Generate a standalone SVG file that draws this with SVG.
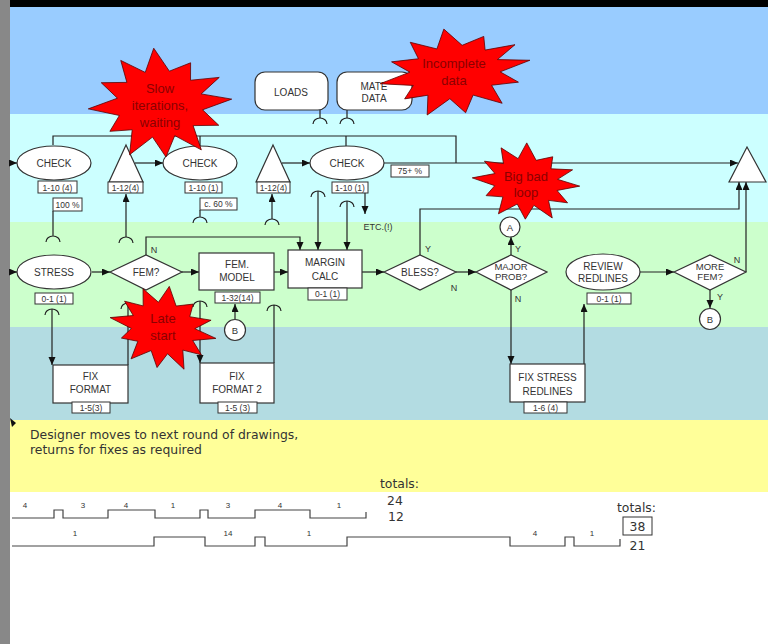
<svg xmlns="http://www.w3.org/2000/svg" width="768" height="644" viewBox="0 0 768 644">
<style>
.n{fill:#fff;stroke:#333;stroke-width:1.2}
.t{font-family:"Liberation Sans",Arial,sans-serif;font-size:10px;fill:#333;text-anchor:middle}
.t2{font-family:"Liberation Sans",Arial,sans-serif;font-size:9.5px;fill:#333;text-anchor:middle}
.lb{fill:#fff;stroke:#333;stroke-width:1}
.lt{font-family:"Liberation Sans",Arial,sans-serif;font-size:8.5px;fill:#333;text-anchor:middle}
.c{fill:none;stroke:#222;stroke-width:1.2}
.a{marker-end:url(#ah)}
.st{fill:#ff0000;stroke:#5a0000;stroke-width:0.8}
.stt{font-family:"Liberation Sans",Arial,sans-serif;font-size:13px;fill:#8b0000;text-anchor:middle}
.w{fill:none;stroke:#444;stroke-width:1.2}
.big{font-family:"DejaVu Sans",sans-serif;font-size:12.4px;fill:#333}
.sm{font-family:"Liberation Sans",Arial,sans-serif;font-size:8px;fill:#333;text-anchor:middle}
.yn{font-family:"Liberation Sans",Arial,sans-serif;font-size:9px;fill:#333;text-anchor:middle}
</style>
<defs>
<marker id="ah" markerWidth="9" markerHeight="8" refX="8" refY="3.5" orient="auto" markerUnits="userSpaceOnUse"><path d="M0,0 L8,3.5 L0,7 z" fill="#111"/></marker>
<polygon id="star" vector-effect="non-scaling-stroke" points="-0.087,-0.996 0.130,-0.586 0.425,-0.736 0.424,-0.424 0.823,-0.475 0.572,-0.180 0.996,-0.087 0.591,0.104 0.816,0.380 0.460,0.386 0.574,0.819 0.205,0.564 0.083,0.946 -0.104,0.591 -0.423,0.906 -0.386,0.460 -0.696,0.488 -0.564,0.205 -0.996,0.087 -0.591,-0.104 -0.816,-0.380 -0.460,-0.386 -0.545,-0.778 -0.205,-0.564"/>
</defs>

<g id="background">
<rect x="0" y="0" width="768" height="644" fill="#fff"/>
<rect x="10" y="0" width="758" height="114" fill="#99ccff"/>
<rect x="10" y="114" width="758" height="108" fill="#ccffff"/>
<rect x="10" y="222" width="758" height="105" fill="#ccffcc"/>
<rect x="10" y="327" width="758" height="93" fill="#b3dce2"/>
<rect x="10" y="420" width="758" height="72" fill="#ffff99"/>
<rect x="10" y="0" width="758" height="7" fill="#000"/>
<rect x="0" y="0" width="10" height="644" fill="#888"/>
<polygon points="10,418 16,423 12,427" fill="#111"/>
</g>

<g id="connectors">
<path class="c a" d="M10,163 H17"/>
<path class="c a" d="M10,272 H17"/>
<path class="c" d="M53,145 V136 H456 V163"/>
<path class="c" d="M200,136 V146 M346,136 V146"/>
<path class="c a" d="M384,163 H738"/>
<path class="c a" d="M135,163 H163"/>
<path class="c a" d="M282,163 H310"/>
<path class="c" d="M320,110 V118 M347,110 V118"/>
<path class="c" d="M313,124 A7,6 0 0 1 327,124 M340,124 A7,6 0 0 1 354,124"/>
<path class="c" d="M53,211 V236 M46,242 A7,6 0 0 1 60,242"/>
<path class="c" d="M119,243 A7,6 0 0 1 133,243"/>
<path class="c a" d="M126,237 V194"/>
<path class="c" d="M200,210 V217 M193,223 A7,6 0 0 1 207,223"/>
<path class="c" d="M265,225 A7,6 0 0 1 279,225"/>
<path class="c a" d="M272,219 V194"/>
<path class="c" d="M311,197 A7,6 0 0 1 325,197 M340,207 A7,6 0 0 1 354,207"/>
<path class="c a" d="M318,191 V250"/>
<path class="c a" d="M347,201 V250"/>
<path class="c a" d="M365,193 V214"/>
<path class="c a" d="M146,255 V237 H300 V250"/>
<path class="c a" d="M92,272 H110"/>
<path class="c a" d="M182,272 H199"/>
<path class="c a" d="M274,272 H288"/>
<path class="c a" d="M362,272 H384"/>
<path class="c a" d="M456,272 H476"/>
<path class="c a" d="M420,255 V209 H739 V182"/>
<path class="c a" d="M511,255 V237"/>
<path class="c a" d="M511,290 V364"/>
<path class="c a" d="M584,364 V304"/>
<path class="c a" d="M639,272 H674"/>
<path class="c a" d="M746,272 V182"/>
<path class="c a" d="M710,290 V308"/>
<path class="c a" d="M235,319 V304"/>
<path class="c" d="M45,315 A7,6 0 0 1 59,315"/>
<path class="c a" d="M52,309 V365"/>
<path class="c" d="M121,309 A7,6 0 0 1 135,309 M128,303 V365"/>
<path class="c" d="M193,307 A7,6 0 0 1 207,307"/>
<path class="c a" d="M200,301 V363"/>
<path class="c" d="M267,311 A7,6 0 0 1 281,311 M274,305 V363"/>
</g>

<g id="loads"><rect class="n" x="255" y="72" width="73" height="38" rx="10"/><text class="t" x="291" y="96">LOADS</text></g>
<g id="matedata"><rect class="n" x="337" y="72" width="75" height="38" rx="10"/><text class="t" x="374" y="90">MATE</text><text class="t" x="374" y="102">DATA</text></g>

<g id="check1"><ellipse class="n" cx="54" cy="163" rx="37" ry="17"/><text class="t" x="54" y="167">CHECK</text>
<rect class="lb" x="38" y="181" width="39" height="12"/><text class="lt" x="57.5" y="190.5">1-10 (4)</text>
<rect class="lb" x="53" y="198" width="29" height="13"/><text class="lt" x="67.5" y="207.5">100 %</text></g>
<g id="tri1"><polygon class="n" points="126,145 143,182 109,182"/><rect class="lb" x="108" y="182" width="35" height="11"/><text class="lt" x="125.5" y="190.5">1-12(4)</text></g>
<g id="check2"><ellipse class="n" cx="200" cy="163" rx="37" ry="17"/><text class="t" x="200" y="167">CHECK</text>
<rect class="lb" x="185" y="182" width="37" height="11"/><text class="lt" x="203.5" y="190.5">1-10 (1)</text>
<rect class="lb" x="200" y="198" width="37" height="12"/><text class="lt" x="218.5" y="207">c. 60 %</text></g>
<g id="tri2"><polygon class="n" points="273,145 290,182 256,182"/><rect class="lb" x="257" y="182" width="33" height="11"/><text class="lt" x="273.5" y="190.5">1-12(4)</text></g>
<g id="check3"><ellipse class="n" cx="347" cy="163" rx="37" ry="17"/><text class="t" x="347" y="167">CHECK</text>
<rect class="lb" x="332" y="182" width="36" height="11"/><text class="lt" x="350" y="190.5">1-10 (1)</text>
<rect class="lb" x="391" y="165" width="38" height="12"/><text class="lt" x="410" y="174">75+ %</text>
<text class="yn" x="378" y="230">ETC.(!)</text></g>
<g id="tri3"><polygon class="n" points="747,147 766,182 729,182"/></g>

<g id="stress"><ellipse class="n" cx="54" cy="272" rx="37" ry="17"/><text class="t" x="54" y="276">STRESS</text>
<rect class="lb" x="35" y="293" width="38" height="11"/><text class="lt" x="54" y="301.5">0-1 (1)</text></g>
<g id="femq"><polygon class="n" points="110,272 146,255 182,272 146,290"/><text class="t" x="146" y="276">FEM?</text><text class="yn" x="154" y="253">N</text></g>
<g id="femmodel"><rect class="n" x="199" y="253" width="75" height="37"/><text class="t" x="237" y="268">FEM.</text><text class="t" x="237" y="281">MODEL</text>
<rect class="lb" x="215" y="292" width="45" height="11"/><text class="lt" x="237.5" y="300.5">1-32(14)</text></g>
<g id="b1"><circle class="n" cx="235" cy="330" r="10.5"/><text class="t2" x="235" y="333.5">B</text></g>
<g id="margin"><rect class="n" x="288" y="250" width="74" height="38"/><text class="t" x="325" y="266">MARGIN</text><text class="t" x="325" y="280">CALC</text>
<rect class="lb" x="308" y="288" width="39" height="12"/><text class="lt" x="327.5" y="297">0-1 (1)</text></g>
<g id="bless"><polygon class="n" points="384,272 420,255 456,272 420,290"/><text class="t" x="420" y="276">BLESS?</text><text class="yn" x="428" y="252">Y</text><text class="yn" x="454" y="291">N</text></g>
<g id="major"><polygon class="n" points="476,272 511,255 547,272 511,290"/><text class="t2" x="511" y="270">MAJOR</text><text class="t2" x="511" y="280">PROB?</text><text class="yn" x="518" y="252">Y</text><text class="yn" x="518" y="302">N</text></g>
<g id="a1"><circle class="n" cx="510" cy="227" r="10"/><text class="t2" x="510" y="230.5">A</text></g>
<g id="review"><ellipse class="n" cx="603" cy="272" rx="37" ry="18"/><text class="t" x="603" y="270">REVIEW</text><text class="t" x="603" y="282">REDLINES</text>
<rect class="lb" x="587" y="293" width="44" height="11"/><text class="lt" x="609" y="301.5">0-1 (1)</text></g>
<g id="morefem"><polygon class="n" points="674,272 710,255 746,272 710,290"/><text class="t2" x="710" y="270">MORE</text><text class="t2" x="710" y="280">FEM?</text><text class="yn" x="737" y="263">N</text><text class="yn" x="720" y="300">Y</text></g>
<g id="b2"><circle class="n" cx="710" cy="319" r="10.5"/><text class="t2" x="710" y="322.5">B</text></g>
<g id="fixformat"><rect class="n" x="53" y="365" width="75" height="38"/><text class="t" x="90.5" y="380">FIX</text><text class="t" x="90.5" y="393">FORMAT</text>
<rect class="lb" x="72" y="402" width="38" height="11"/><text class="lt" x="91" y="410.5">1-5(3)</text></g>
<g id="fixformat2"><rect class="n" x="200" y="363" width="74" height="40"/><text class="t" x="237" y="380">FIX</text><text class="t" x="237" y="393">FORMAT 2</text>
<rect class="lb" x="218" y="402" width="39" height="11"/><text class="lt" x="237.5" y="410.5">1-5 (3)</text></g>
<g id="fixstress"><rect class="n" x="510" y="364" width="75" height="38"/><text class="t" x="547.5" y="381">FIX STRESS</text><text class="t" x="547.5" y="395">REDLINES</text>
<rect class="lb" x="524" y="402" width="43" height="11"/><text class="lt" x="545.5" y="410.5">1-6 (4)</text></g>

<g id="star-slow"><use href="#star" class="st" transform="translate(160,104) scale(72,56)"/>
<text class="stt" x="160" y="93">Slow</text><text class="stt" x="160" y="110">iterations,</text><text class="stt" x="160" y="127">waiting</text></g>
<g id="star-incomplete"><use href="#star" class="st" transform="translate(455,72) rotate(-6) scale(76,44)"/>
<text class="stt" x="454" y="68">Incomplete</text><text class="stt" x="454" y="85">data</text></g>
<g id="star-bigbad"><use href="#star" class="st" transform="translate(526,182) rotate(8) scale(54,39)"/>
<text class="stt" x="526" y="181">Big bad</text><text class="stt" x="526" y="197">loop</text></g>
<g id="star-late"><use href="#star" class="st" transform="translate(163,328) rotate(15) scale(54,42)"/>
<text class="stt" x="163" y="323">Late</text><text class="stt" x="163" y="340">start</text></g>

<g id="notes">
<text class="big" x="30" y="439">Designer moves to next round of drawings,</text>
<text class="big" x="30" y="454">returns for fixes as required</text>
<text class="big" x="380" y="488">totals:</text>
<text class="big" x="387" y="505">24</text>
<text class="big" x="388" y="521">12</text>
<text class="big" x="617" y="512">totals:</text>
<rect x="623" y="517" width="29" height="18" fill="#fff" stroke="#333" stroke-width="1"/>
<text class="big" x="637.5" y="531" text-anchor="middle">38</text>
<text class="big" x="637.5" y="550" text-anchor="middle">21</text>
</g>

<g id="timeline">
<polyline class="w" points="12,518 54,518 54,510 63,510 63,518 108,518 108,510 155,510 155,518 200,518 200,510 208,510 208,518 255,518 255,510 310,510 310,518 366,518 366,512"/>
<polyline class="w" points="12,546 154,546 154,537 205,537 205,546 255,546 255,537 265,537 265,546 347,546 347,537 510,537 510,546 565,546 565,537 574,537 574,546 620,546 620,539"/>
<text class="sm" x="25" y="508">4</text><text class="sm" x="83" y="508">3</text><text class="sm" x="126" y="508">4</text><text class="sm" x="173" y="508">1</text><text class="sm" x="228" y="508">3</text><text class="sm" x="280" y="508">4</text><text class="sm" x="339" y="508">1</text>
<text class="sm" x="75" y="536">1</text><text class="sm" x="228" y="536">14</text><text class="sm" x="309" y="536">1</text><text class="sm" x="535" y="536">4</text><text class="sm" x="592" y="536">1</text>
</g>
</svg>
